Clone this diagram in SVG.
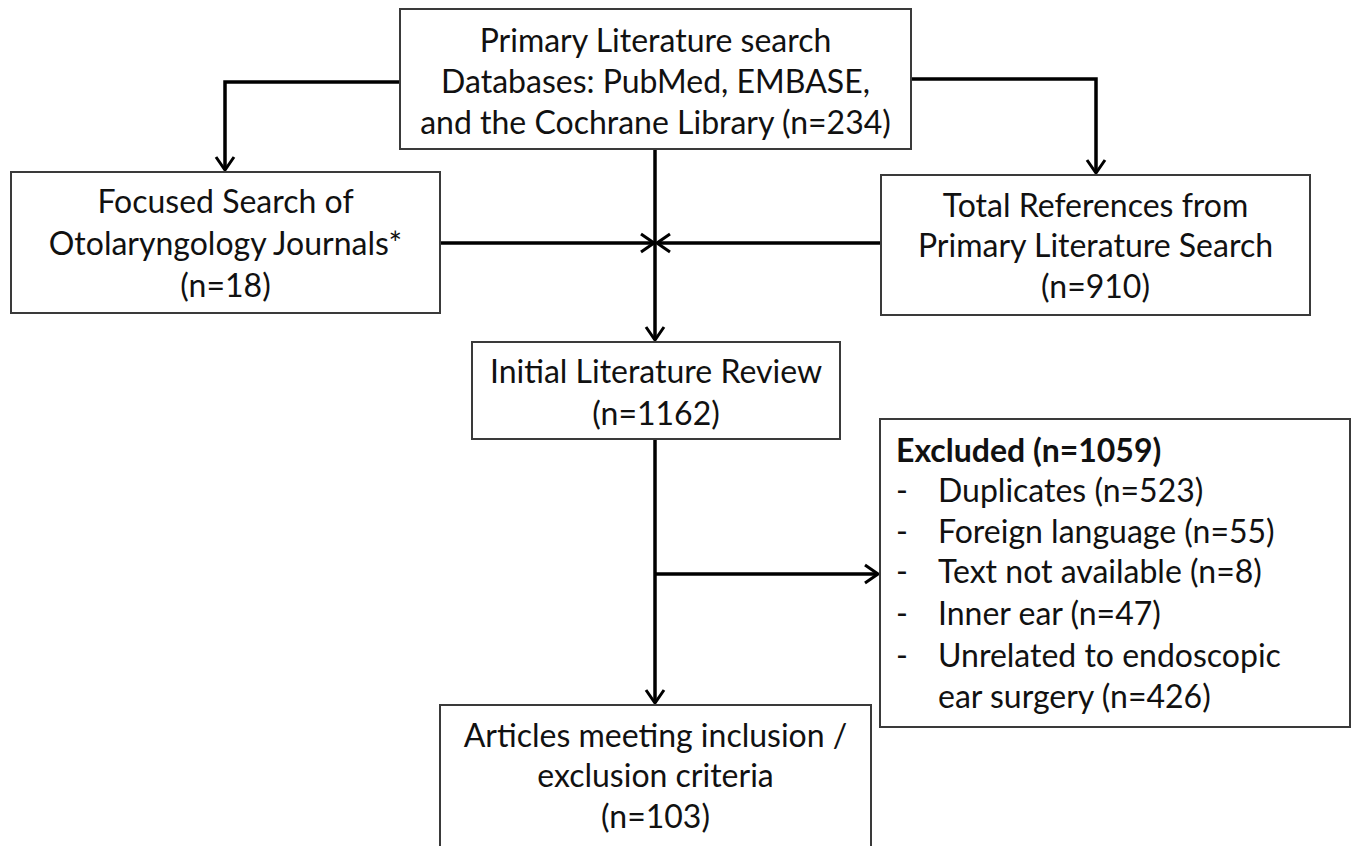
<svg xmlns="http://www.w3.org/2000/svg" width="1354" height="846" viewBox="0 0 1354 846">
<style>
.box{fill:#fff;stroke:#3a3a3a;stroke-width:2}
.t{font-family:Lato,"Open Sans","Liberation Sans",sans-serif;font-size:32px;fill:#111}
.c{text-anchor:middle}
.b{font-weight:bold}
.ln{fill:none;stroke:#000;stroke-width:3.5}
</style>
<defs>
<marker id="ah" markerUnits="userSpaceOnUse" markerWidth="18" markerHeight="22" viewBox="0 0 18 22" refX="16" refY="11" orient="auto">
<path d="M3,2 L16,11 L3,20" fill="none" stroke="#000" stroke-width="3"/>
</marker>
</defs>
<rect width="1354" height="846" fill="#fff"/>
<g id="connectors">
<path class="ln" d="M400,82 H225 V170" marker-end="url(#ah)"/>
<path class="ln" d="M911,79 H1096 V173" marker-end="url(#ah)"/>
<path class="ln" d="M655,149 V340" marker-end="url(#ah)"/>
<path class="ln" d="M440,243 H654" marker-end="url(#ah)"/>
<path class="ln" d="M881,243 H657" marker-end="url(#ah)"/>
<path class="ln" d="M655,439 V703" marker-end="url(#ah)"/>
<path class="ln" d="M655,574 H878" marker-end="url(#ah)"/>
</g>
<g id="primary">
<rect class="box" x="400" y="9" width="511" height="140"/>
<text class="t c" x="655.5" y="52">Primary Literature search</text>
<text class="t c" x="655.5" y="93">Databases: PubMed, EMBASE,</text>
<text class="t c" x="655.5" y="134">and the Cochrane Library (n=234)</text>
</g>
<g id="focused">
<rect class="box" x="11" y="172" width="429" height="141"/>
<text class="t c" x="225.5" y="213">Focused Search of</text>
<text class="t c" x="225.5" y="255">Otolaryngology Journals*</text>
<text class="t c" x="225.5" y="297">(n=18)</text>
</g>
<g id="total">
<rect class="box" x="881" y="175" width="429" height="140"/>
<text class="t c" x="1095.5" y="217">Total References from</text>
<text class="t c" x="1095.5" y="257">Primary Literature Search</text>
<text class="t c" x="1095.5" y="298">(n=910)</text>
</g>
<g id="initial">
<rect class="box" x="472" y="342" width="368" height="97"/>
<text class="t c" x="656" y="383">Initial Literature Review</text>
<text class="t c" x="656" y="425">(n=1162)</text>
</g>
<g id="excluded">
<rect class="box" x="880" y="419" width="470" height="308"/>
<text class="t b" x="896" y="462">Excluded (n=1059)</text>
<text class="t" x="896" y="502">-</text><text class="t" x="938" y="502">Duplicates (n=523)</text>
<text class="t" x="896" y="543">-</text><text class="t" x="938" y="543">Foreign language (n=55)</text>
<text class="t" x="896" y="583">-</text><text class="t" x="938" y="583">Text not available (n=8)</text>
<text class="t" x="896" y="625">-</text><text class="t" x="938" y="625">Inner ear (n=47)</text>
<text class="t" x="896" y="667">-</text><text class="t" x="938" y="667">Unrelated to endoscopic</text>
<text class="t" x="938" y="708">ear surgery (n=426)</text>
</g>
<g id="articles">
<rect class="box" x="440" y="705" width="431" height="150"/>
<text class="t c" x="655.5" y="747">Articles meeting inclusion /</text>
<text class="t c" x="655.5" y="787">exclusion criteria</text>
<text class="t c" x="655.5" y="828">(n=103)</text>
</g>
</svg>
